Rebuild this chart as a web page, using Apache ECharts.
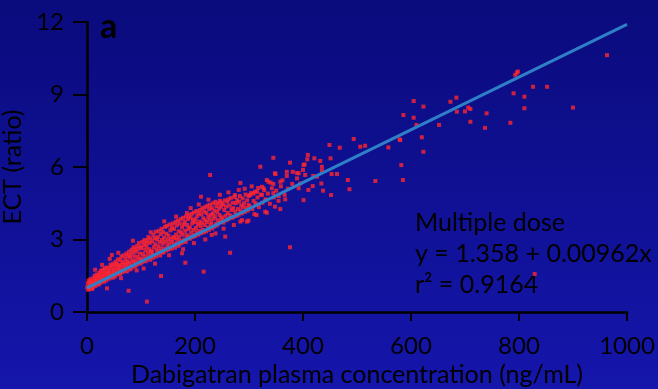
<!DOCTYPE html>
<html>
<head>
<meta charset="utf-8">
<script src="https://cdn.jsdelivr.net/npm/echarts@6/dist/echarts.min.js"></script>
<style>
html,body{margin:0;padding:0;background:#0c0e88;}
#chart{width:658px;height:389px;}
</style>
</head>
<body>
<div id="chart"></div>
<script>
// Axis ticks
const xTicks = [0, 200, 400, 600, 800, 1000];
const yTicks = [0, 3, 6, 9, 12];

// Dense band of measurements (ng/mL, ratio), 0-100 ng/mL
const bandLow = [
[0.5,1.02],[1.5,1.18],[2.2,0.92],[3.1,1.3],[3.8,1.08],[4.6,0.97],[5.3,1.22],[6.4,1.36],[7.1,1.01],[7.9,1.14],[8.8,1.27],[9.6,0.95],
[10.4,1.2],[11.2,1.02],[12.1,1.41],[12.9,1.12],[13.7,1.29],[14.5,1.5],[15.6,1.08],[16.3,1.36],[17.2,1.22],[18.1,1.55],[18.9,1.15],[19.7,1.44],
[20.3,1.3],[21.1,1.52],[22.2,1.14],[23.0,1.62],[23.9,1.38],[24.8,1.21],[25.5,1.7],[26.4,1.45],[27.3,1.28],[28.2,1.58],[29.0,1.75],[29.8,1.36],
[30.6,1.48],[31.4,1.25],[32.3,1.66],[33.1,1.8],[34.0,1.37],[34.9,1.55],[35.7,1.31],[36.5,1.84],[37.4,1.62],[38.2,1.43],[39.1,1.72],[39.9,1.5],
[40.2,1.61],[41.0,1.38],[41.9,1.82],[42.8,1.52],[43.6,1.96],[44.4,1.45],[45.3,1.7],[46.1,1.88],[47.0,1.56],[47.8,1.42],[48.7,2.0],[49.6,1.74],
[50.5,1.58],[51.3,1.9],[52.1,1.47],[53.0,2.08],[53.8,1.72],[54.7,1.55],[55.5,1.98],[56.4,1.83],[57.2,2.18],[58.1,1.62],[58.9,1.94],[59.8,1.75],
[60.3,1.88],[61.1,1.57],[62.0,2.15],[62.8,1.73],[63.7,2.3],[64.5,1.96],[65.4,1.64],[66.2,2.06],[67.1,1.82],[67.9,2.34],[68.8,1.7],[69.6,2.0],
[70.4,1.8],[71.2,2.2],[72.1,1.95],[72.9,2.42],[73.8,1.68],[74.6,2.1],[75.5,2.32],[76.3,1.86],[77.2,2.04],[78.0,2.5],[78.9,1.76],[79.7,2.26],
[80.2,2.0],[81.0,2.36],[81.9,1.8],[82.7,2.58],[83.6,2.14],[84.4,1.9],[85.3,2.46],[86.1,2.68],[87.0,2.05],[87.8,2.3],[88.7,1.88],[89.5,2.6],
[90.3,2.12],[91.1,2.5],[92.0,1.95],[92.8,2.74],[93.7,2.28],[94.5,2.02],[95.4,2.62],[96.2,2.86],[97.1,2.18],[97.9,2.42],[98.8,2.0],[99.6,2.7]
];
// 100-200 ng/mL
const bandMid = [
[100.4,2.22],[101.2,2.64],[102.1,2.06],[102.9,2.9],[103.8,2.4],[104.6,2.14],[105.5,2.78],[106.3,2.98],[107.2,2.3],[108.0,2.56],[108.9,2.1],[109.7,2.84],
[110.2,2.7],[111.0,2.2],[111.9,2.96],[112.7,2.44],[113.6,3.1],[114.4,2.28],[115.3,2.6],[116.1,2.86],[117.0,2.16],[117.8,3.04],[118.7,2.52],[119.5,2.36],
[120.3,2.5],[121.1,2.92],[122.0,2.24],[122.8,3.2],[123.7,2.68],[124.5,2.36],[125.4,3.06],[126.2,2.8],[127.1,3.32],[127.9,2.3],[128.8,2.58],[129.6,3.0],
[130.4,2.44],[131.2,3.1],[132.1,2.72],[132.9,3.36],[133.8,2.52],[134.6,2.9],[135.5,2.34],[136.3,3.22],[137.2,2.64],[138.0,3.44],[138.9,2.98],[139.7,2.46],
[140.2,2.82],[141.0,3.3],[141.9,2.48],[142.7,3.08],[143.6,2.62],[144.4,3.52],[145.3,2.9],[146.1,2.55],[147.0,3.24],[147.8,3.56],[148.7,2.72],[149.5,3.0],
[150.3,2.58],[151.1,3.16],[152.0,2.84],[152.8,3.62],[153.7,2.66],[154.5,3.38],[155.4,3.02],[156.2,2.62],[157.1,3.5],[157.9,2.9],[158.8,3.66],[159.6,3.1],
[160.4,2.76],[161.2,3.44],[162.1,3.06],[162.9,2.66],[163.8,3.72],[164.6,3.2],[165.5,2.84],[166.3,3.58],[167.2,3.0],[168.0,3.78],[168.9,2.74],[169.7,3.34],
[170.2,3.12],[171.0,2.8],[171.9,3.66],[172.7,2.96],[173.6,3.84],[174.4,3.3],[175.3,2.86],[176.1,3.5],[177.0,3.2],[177.8,3.9],[178.7,2.92],[179.5,3.62],
[180.3,3.0],[181.1,3.74],[182.0,3.36],[182.8,2.9],[183.7,3.96],[184.5,3.18],[185.4,3.6],[186.2,3.04],[187.1,3.84],[187.9,3.44],[188.8,4.0],[189.6,3.12],
[190.4,3.5],[191.2,3.04],[192.1,3.9],[192.9,3.28],[193.8,4.06],[194.6,3.66],[195.5,3.1],[196.3,3.8],[197.2,3.4],[198.0,4.12],[198.9,3.2],[199.7,3.72]
];
// 200-360 ng/mL
const bandHigh = [
[200.2,3.14],[201.0,3.86],[201.9,3.48],[202.7,4.18],[203.6,3.3],[204.4,3.98],[205.3,3.62],[206.1,3.2],[207.0,4.08],[207.8,3.74],[208.7,3.36],[209.5,4.22],
[210.3,3.56],[211.1,3.26],[212.0,4.04],[212.8,3.7],[213.7,4.3],[214.5,3.4],[215.4,3.88],[216.2,3.3],[217.1,4.16],[217.9,3.6],[218.8,4.34],[219.6,3.8],
[220.4,3.34],[221.2,4.1],[222.1,3.72],[222.9,4.4],[223.8,3.5],[224.6,3.96],[225.5,3.4],[226.3,4.26],[227.2,3.84],[228.0,4.44],[228.9,3.62],[229.7,4.02],
[230.3,3.7],[231.1,4.3],[232.0,3.46],[232.8,4.08],[233.7,4.5],[234.5,3.86],[235.4,3.54],[236.2,4.2],[237.1,3.96],[237.9,4.56],[238.8,3.64],[239.6,4.38],
[240.4,3.58],[241.2,4.14],[242.1,3.8],[242.9,4.5],[243.8,3.66],[244.6,4.28],[245.5,4.02],[246.3,4.6],[247.2,3.74],[248.0,4.36],[248.9,3.92],[249.7,4.52],
[250.6,3.86],[251.8,4.44],[253.0,3.7],[254.1,4.22],[255.3,4.62],[256.4,3.98],[257.6,4.36],[258.7,3.8],[259.9,4.56],
[260.5,4.1],[261.7,4.66],[262.8,3.86],[264.0,4.4],[265.2,4.0],[266.3,4.72],[267.5,4.22],[268.6,3.9],[269.8,4.52],
[270.7,4.3],[271.9,3.94],[273.1,4.76],[274.4,4.14],[275.6,4.5],[276.9,3.98],[278.1,4.64],[279.3,4.26],
[280.6,4.02],[281.8,4.56],[283.1,4.8],[284.3,4.2],[285.6,4.4],[286.8,4.08],[288.1,4.7],[289.3,4.34],
[290.8,4.5],[292.2,4.14],[293.7,4.86],[295.1,4.3],[296.6,4.62],[298.0,4.2],[299.5,4.8],
[301.5,4.38],[303.8,4.92],[306.2,4.26],[308.5,4.6],[311.0,4.98],[313.4,4.44],[315.9,4.74],[318.3,4.34],
[321.7,4.86],[324.8,4.52],[328.2,5.04],[331.5,4.66],[335.0,4.9],[338.6,4.48],[342.3,5.12],[346.0,4.74],[350.4,5.02],[354.7,4.6],[359.1,5.2]
];
// Points along the ragged edges of the band
const bandEdge = [
[15,1.75],[28,1.95],[42,2.2],[58,2.45],[63,1.4],[85,2.95],[92,1.72],[118,3.3],[126,2.0],[143,3.75],
[152,2.35],[165,3.95],[178,2.6],[192,4.3],[198,2.85],[207,4.45],[219,3.0],[225,4.65],[238,3.25],[246,4.85],
[253,3.45],[262,4.95],[272,3.6],[281,5.05],[287,3.8],[292,5.1],[305,5.2],[310,4.05],[340,5.35],[355,4.8],
[362,5.45],[372,5.1],[380,5.3],[366,4.85]
];
// Scattered measurements
const scatterLow = [
[37,0.98],[46,2.36],[77,0.88],[105,1.8],[111,0.43],[137,1.49],[176,2.43],[182,2.04],[216,1.67],
[265,2.45],[256,3.12],[231,3.19],[284,3.74],[299,3.78],[314,4.01],[333,4.11],[358,4.26],[376,2.68],
[185,4.1],[211,4.77],[228,5.67],[284,5.34],[274,4.84],[302,4.84],[324,4.84],[317,5.13],[336,5.39],
[349,5.71],[358,5.39],[370,5.63],[389,5.75],[345,5.3],[324,5.18],[308,4.9],[299,4.43],[330,4.15],[296,3.74]
];
const scatterMid = [
[401,4.63],[367,4.66],[410,5.05],[418,5.21],[434,5.32],[437,5.02],[452,4.84],[463,5.71],[483,5.46],
[486,5.08],[534,5.42],[585,5.46],[582,6.08],[558,6.81],[579,7.14],[494,7.16],[506,6.84],[515,6.88],
[449,6.91],[468,6.8],[451,6.36],[453,5.71],[432,6.25],[421,6.36],[409,6.5],[408,6.32],[401,6.08],
[435,5.85],[426,5.6],[376,6.18],[345,6.38],[321,6.01],[381,5.8],[392,5.74],[404,5.67],[389,5.53],
[400,5.88],[370,5.8],[348,5.74],[333,5.46],[327,5.12],[345,4.92],[315,4.98],[312,4.5],[330,4.63],
[348,4.36],[419,5.63],[395,5.32],[392,5.12],[435,6.01],[403,6.11]
];
const scatterHigh = [
[605,8.73],[623,8.5],[673,8.7],[586,8.15],[605,8.04],[700,8.3],[706,8.46],[710,8.4],[740,8.22],
[710,7.87],[737,7.62],[652,7.74],[610,7.74],[620,7.23],[623,6.63],[684,8.87],[685,8.29],[796,9.9],
[793,9.81],[798,9.95],[826,9.32],[852,9.32],[790,9.05],[810,8.91],[810,8.43],[784,7.83],[900,8.46],
[963,10.63],[829,1.57],[580,7.12]
];
// Regression line end points as drawn
const fitX = [0, 1000];
const fitY = [1.0, 11.9];

const points = bandLow.concat(bandMid, bandHigh, bandEdge, scatterLow, scatterMid, scatterHigh);
const fitLine = fitX.map((x, i) => [x, fitY[i]]);

const FONT = 'Lato';
const chart = echarts.init(document.getElementById('chart'));
chart.setOption({
  animation: false,
  backgroundColor: {
    type: 'linear', x: 0, y: 0, x2: 0, y2: 1,
    colorStops: [{offset: 0, color: '#0a0b7c'}, {offset: 1, color: '#1516ab'}]
  },
  textStyle: {fontFamily: FONT},
  grid: {left: 87, right: 31, top: 22, bottom: 77, containLabel: false, outerBoundsMode: 'none'},
  xAxis: {
    type: 'value', min: 0, max: 1000, interval: 200,
    name: 'Dabigatran plasma concentration (ng/mL)',
    nameLocation: 'middle', nameGap: 50,
    nameTextStyle: {color: '#000', fontSize: 25, fontFamily: FONT},
    axisLine: {lineStyle: {color: '#000', width: 2.5}},
    axisTick: {inside: false, length: 9, lineStyle: {color: '#000', width: 2}},
    axisLabel: {color: '#000', fontSize: 24, margin: 22, fontFamily: FONT,
      formatter: v => xTicks.includes(v) ? String(v) : ''},
    splitLine: {show: false}
  },
  yAxis: {
    type: 'value', min: 0, max: 12, interval: 3,
    name: 'ECT (ratio)',
    nameLocation: 'middle', nameGap: 51,
    nameTextStyle: {color: '#000', fontSize: 25, fontFamily: FONT},
    axisLine: {lineStyle: {color: '#000', width: 2.5}},
    axisTick: {inside: false, length: 14, lineStyle: {color: '#000', width: 2}},
    axisLabel: {color: '#000', fontSize: 24, margin: 23, fontFamily: FONT,
      formatter: v => yTicks.includes(v) ? String(v) : ''},
    splitLine: {show: false}
  },
  graphic: [
    {type: 'text', x: 100, y: 27, style: {text: 'a', font: 'bold 34px ' + FONT, fill: '#000', verticalAlign: 'middle'}},
    {type: 'text', x: 415, y: 223, style: {text: 'Multiple dose', font: '25px ' + FONT, fill: '#000', verticalAlign: 'middle'}},
    {type: 'text', x: 415, y: 254, style: {text: 'y = 1.358 + 0.00962x', font: '25px ' + FONT, fill: '#000', verticalAlign: 'middle'}},
    {type: 'text', x: 415, y: 285, style: {text: 'r² = 0.9164', font: '25px ' + FONT, fill: '#000', verticalAlign: 'middle'}}
  ],
  series: [
    {
      type: 'scatter', data: points, symbol: 'rect', symbolSize: 4,
      itemStyle: {color: '#ff2630'}, z: 2
    },
    {
      type: 'line', data: fitLine, showSymbol: false, symbol: 'none',
      lineStyle: {color: '#2f7fc8', width: 3}, z: 3
    }
  ]
});
</script>
</body>
</html>
